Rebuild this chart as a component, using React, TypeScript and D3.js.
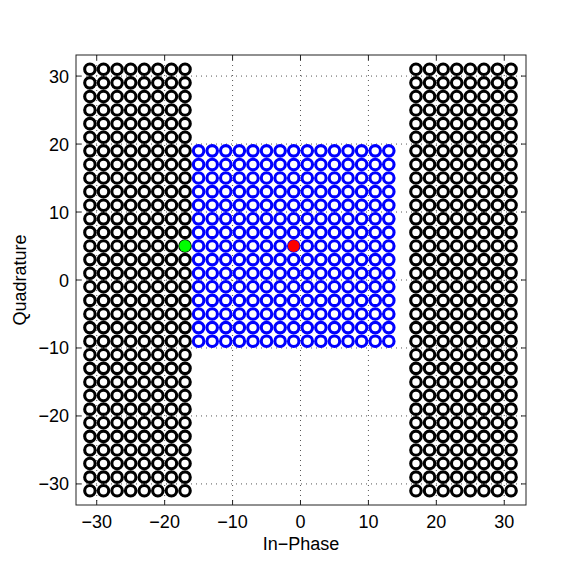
import React from 'react';
import * as d3 from 'd3';

// odd-integer constellation grid
const outerCols = [-31, -29, -27, -25, -23, -21, -19, -17, 17, 19, 21, 23, 25, 27, 29, 31];
const outerRows = d3.range(-31, 32, 2);
const innerCols = d3.range(-15, 14, 2);
const innerRows = d3.range(-9, 20, 2);
const greenPoint = [{ x: -17, y: 5 }];
const redPoint = [{ x: -1, y: 5 }];
const ticks = [-30, -20, -10, 0, 10, 20, 30];

const W = 581, H = 581;
const margin = { top: 55, right: 55, bottom: 76, left: 76 };

export default function App() {
  const x = d3.scaleLinear().domain([-33.05, 33.2]).range([margin.left, W - margin.right]);
  const y = d3.scaleLinear().domain([-33.1, 33.1]).range([H - margin.bottom, margin.top]);

  const outer = outerCols.flatMap(cx => outerRows.map(cy => ({ x: cx, y: cy })));
  const inner = innerCols.flatMap(cx => innerRows.map(cy => ({ x: cx, y: cy })));

  const x0 = x.range()[0], x1 = x.range()[1];
  const y0 = y.range()[1], y1 = y.range()[0];
  const font = 'Liberation Sans, Arial, sans-serif';
  const fmt = (t: number) => (t < 0 ? '\u2212' + Math.abs(t) : String(t));

  return (
    <svg width={W} height={H} style={{ position: 'absolute', left: 0, top: 0 }}>
      <rect width={W} height={H} fill="#fff" />
      {/* grid */}
      {ticks.map(t => (
        <g key={'g' + t}>
          <line x1={x(t)} x2={x(t)} y1={y0} y2={y1} stroke="#555" strokeWidth={1} strokeDasharray="1,4" />
          <line x1={x0} x2={x1} y1={y(t)} y2={y(t)} stroke="#555" strokeWidth={1} strokeDasharray="1,4" />
        </g>
      ))}
      {outer.map((d, i) => (
        <circle key={'o' + i} cx={x(d.x)} cy={y(d.y)} r={5.25} fill="none" stroke="#000" strokeWidth={3.1} />
      ))}
      {inner.map((d, i) => (
        <circle key={'i' + i} cx={x(d.x)} cy={y(d.y)} r={5.25} fill="none" stroke="#0000ff" strokeWidth={3.1} />
      ))}
      {greenPoint.map((d, i) => (
        <circle key={'gp' + i} cx={x(d.x)} cy={y(d.y)} r={5.9} fill="#00ff00" />
      ))}
      {redPoint.map((d, i) => (
        <circle key={'rp' + i} cx={x(d.x)} cy={y(d.y)} r={5.9} fill="#ff0000" />
      ))}
      {/* box */}
      <rect x={x0} y={y0} width={x1 - x0} height={y1 - y0} fill="none" stroke="#222" strokeWidth={1} />
      {/* ticks */}
      {ticks.map(t => (
        <g key={'t' + t} stroke="#222" strokeWidth={1}>
          <line x1={x(t)} x2={x(t)} y1={y1} y2={y1 - 5} />
          <line x1={x(t)} x2={x(t)} y1={y0} y2={y0 + 5} />
          <line x1={x0} x2={x0 + 5} y1={y(t)} y2={y(t)} />
          <line x1={x1} x2={x1 - 5} y1={y(t)} y2={y(t)} />
        </g>
      ))}
      {ticks.map(t => (
        <text key={'xl' + t} x={x(t)} y={y1 + 23} textAnchor="middle" fontFamily={font} fontSize={18} fill="#000">
          {fmt(t)}
        </text>
      ))}
      {ticks.map(t => (
        <text key={'yl' + t} x={x0 - 7} y={y(t) + 6.5} textAnchor="end" fontFamily={font} fontSize={18} fill="#000">
          {fmt(t)}
        </text>
      ))}
      <text x={(x0 + x1) / 2} y={y1 + 45} textAnchor="middle" fontFamily={font} fontSize={18} fill="#000">
        In{'\u2212'}Phase
      </text>
      <text transform={`translate(26,${(y0 + y1) / 2}) rotate(-90)`} textAnchor="middle" fontFamily={font} fontSize={18} fill="#000">
        Quadrature
      </text>
    </svg>
  );
}
